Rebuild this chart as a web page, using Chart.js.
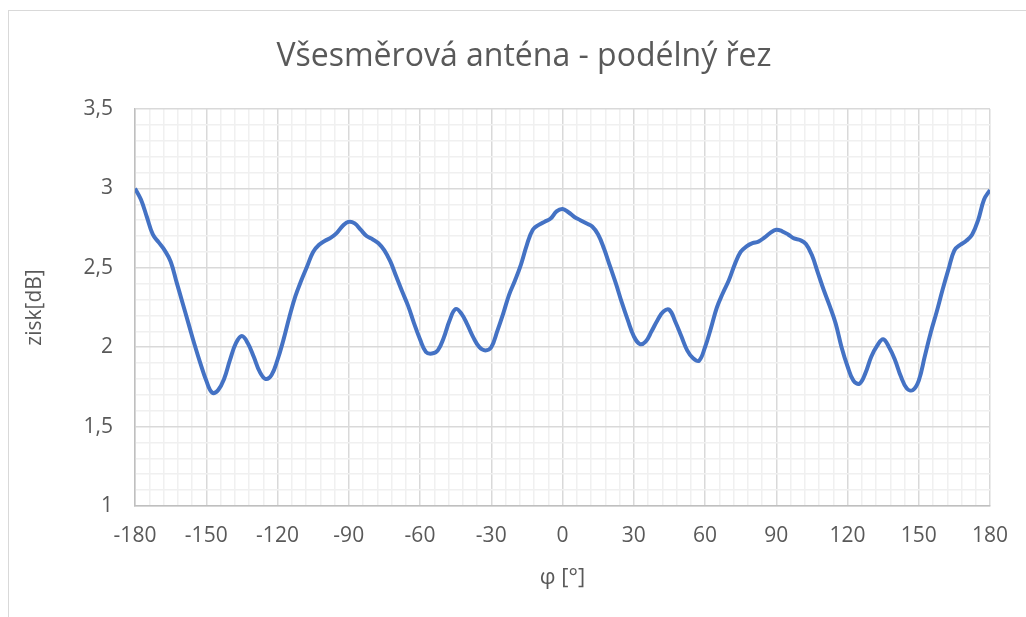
<!DOCTYPE html>
<html>
<head>
<meta charset="utf-8">
<script src="https://cdn.jsdelivr.net/npm/chart.js@4/dist/chart.umd.min.js"></script>
<style>
  html, body { margin: 0; padding: 0; background: #fff; }
  #wrap { width: 1026px; height: 617px; }
</style>
</head>
<body>
<div id="wrap"><canvas id="c" width="1026" height="617"></canvas></div>
<script>
const chartTitle = "Všesměrová anténa - podélný řez";
const xTitle = "φ [°]";
const yTitle = "zisk[dB]";

const angles = [
  -180,-177.5,-175,-172.5,-170,-167.5,-165,-162.5,-160,-157.5,-155,-152.5,
  -150,-147.5,-145,-142.5,-140,-137.5,-135,-132.5,-130,-127.5,-125,-122.5,
  -120,-117.5,-115,-112.5,-110,-107.5,-105,-102.5,-100,-97.5,-95,-92.5,
  -90,-87.5,-85,-82.5,-80,-77.5,-75,-72.5,-70,-67.5,-65,-62.5,
  -60,-57.5,-55,-52.5,-50,-47.5,-45,-42.5,-40,-37.5,-35,-32.5,
  -30,-27.5,-25,-22.5,-20,-17.5,-15,-12.5,-10,-7.5,-5,-2.5,
  0,2.5,5,7.5,10,12.5,15,17.5,20,22.5,25,27.5,
  30,32.5,35,37.5,40,42.5,45,47.5,50,52.5,55,57.5,
  60,62.5,65,67.5,70,72.5,75,77.5,80,82.5,85,87.5,
  90,92.5,95,97.5,100,102.5,105,107.5,110,112.5,115,117.5,
  120,122.5,125,127.5,130,132.5,135,137.5,140,142.5,145,147.5,
  150,152.5,155,157.5,160,162.5,165,167.5,170,172.5,175,177.5,
  180
];
const gain = [
  3.00,2.93,2.82,2.71,2.66,2.61,2.54,2.41,2.28,2.15,2.02,1.90,
  1.79,1.714,1.73,1.80,1.92,2.025,2.07,2.025,1.94,1.846,1.80,1.825,
  1.92,2.046,2.19,2.32,2.42,2.51,2.60,2.645,2.67,2.69,2.72,2.765,
  2.79,2.78,2.74,2.70,2.68,2.655,2.61,2.54,2.445,2.35,2.26,2.15,
  2.05,1.97,1.96,1.98,2.06,2.17,2.24,2.21,2.14,2.06,2.00,1.98,
  2.00,2.10,2.21,2.33,2.42,2.52,2.645,2.74,2.77,2.79,2.81,2.855,
  2.87,2.85,2.82,2.80,2.78,2.76,2.71,2.62,2.51,2.40,2.28,2.17,
  2.07,2.02,2.035,2.10,2.17,2.225,2.235,2.16,2.07,1.98,1.93,1.915,
  2.00,2.12,2.25,2.34,2.42,2.52,2.60,2.635,2.655,2.665,2.69,2.72,
  2.74,2.73,2.71,2.685,2.675,2.65,2.58,2.47,2.36,2.26,2.15,2.00,
  1.88,1.79,1.77,1.835,1.94,2.01,2.05,2.00,1.92,1.815,1.74,1.73,
  1.79,1.94,2.09,2.22,2.36,2.49,2.61,2.645,2.67,2.71,2.80,2.93,
  2.99
];

const xMin = -180, xMax = 180, xMajor = 30, xMinor = 6;
const yMin = 1, yMax = 3.5, yMajor = 0.5, yMinor = 0.1;

const points = angles.map((a, i) => ({ x: a, y: gain[i] }));

const textColor = '#595959';
const majorGrid = '#d9d9d9';
const minorGrid = '#f0f0f0';

const frame = {
  id: 'frame',
  beforeDraw(chart) {
    const ctx = chart.ctx;
    ctx.save();
    ctx.fillStyle = '#ffffff';
    ctx.fillRect(0, 0, chart.width, chart.height);
    ctx.strokeStyle = '#d9d9d9';
    ctx.lineWidth = 1;
    ctx.strokeRect(8.5, 10.5, 1100, 700);
    ctx.restore();
  },
  afterDraw(chart) {
    const ctx = chart.ctx;
    ctx.save();
    ctx.fillStyle = textColor;
    ctx.font = '32px "Open Sans"';
    ctx.textAlign = 'center';
    ctx.textBaseline = 'middle';
    ctx.fillText(chartTitle, 524, 57);
    ctx.restore();
  }
};

function isMultiple(v, step) {
  const r = v / step;
  return Math.abs(r - Math.round(r)) < 1e-6;
}

new Chart(document.getElementById('c'), {
  type: 'line',
  data: {
    datasets: [{
      data: points,
      borderColor: '#4472C4',
      borderWidth: 4,
      pointRadius: 0,
      tension: 0.4,
      fill: false
    }]
  },
  options: {
    responsive: false,
    animation: false,
    layout: { padding: { left: 0, right: 36, top: 109, bottom: 0 } },
    plugins: {
      legend: { display: false },
      tooltip: { enabled: false },
      title: { display: false }
    },
    scales: {
      x: {
        type: 'linear',
        min: xMin, max: xMax,
        afterFit(scale) { scale.height = 111; },
        ticks: {
          stepSize: xMinor,
          autoSkip: false,
          maxRotation: 0,
          padding: 17,
          color: textColor,
          font: { family: 'Open Sans', size: 21 },
          callback: (v) => isMultiple(v, xMajor) ? String(Math.round(v)) : ''
        },
        grid: {
          drawTicks: false,
          color: (c) => (c.tick && isMultiple(c.tick.value, xMajor)) ? majorGrid : minorGrid,
          lineWidth: 1.5
        },
        border: { display: true, color: '#bfbfbf', width: 1.5 },
        title: {
          display: true,
          text: xTitle,
          color: textColor,
          font: { family: 'Open Sans', size: 22 },
          padding: { top: 0, bottom: 26 }
        }
      },
      y: {
        type: 'linear',
        min: yMin, max: yMax,
        afterFit(scale) { scale.width = 135; },
        ticks: {
          stepSize: yMinor,
          autoSkip: false,
          padding: 22,
          color: textColor,
          font: { family: 'Open Sans', size: 21 },
          callback: (v) => isMultiple(v, yMajor) ? String(Math.round(v * 10) / 10).replace('.', ',') : ''
        },
        grid: {
          drawTicks: false,
          color: (c) => (c.tick && isMultiple(c.tick.value, yMajor)) ? majorGrid : minorGrid,
          lineWidth: 1.5
        },
        border: { display: true, color: '#bfbfbf', width: 1.5 },
        title: {
          display: true,
          text: yTitle,
          color: textColor,
          font: { family: 'Open Sans', size: 21 },
          padding: { top: 22, bottom: 0 }
        }
      }
    }
  },
  plugins: [frame]
});
</script>
</body>
</html>
